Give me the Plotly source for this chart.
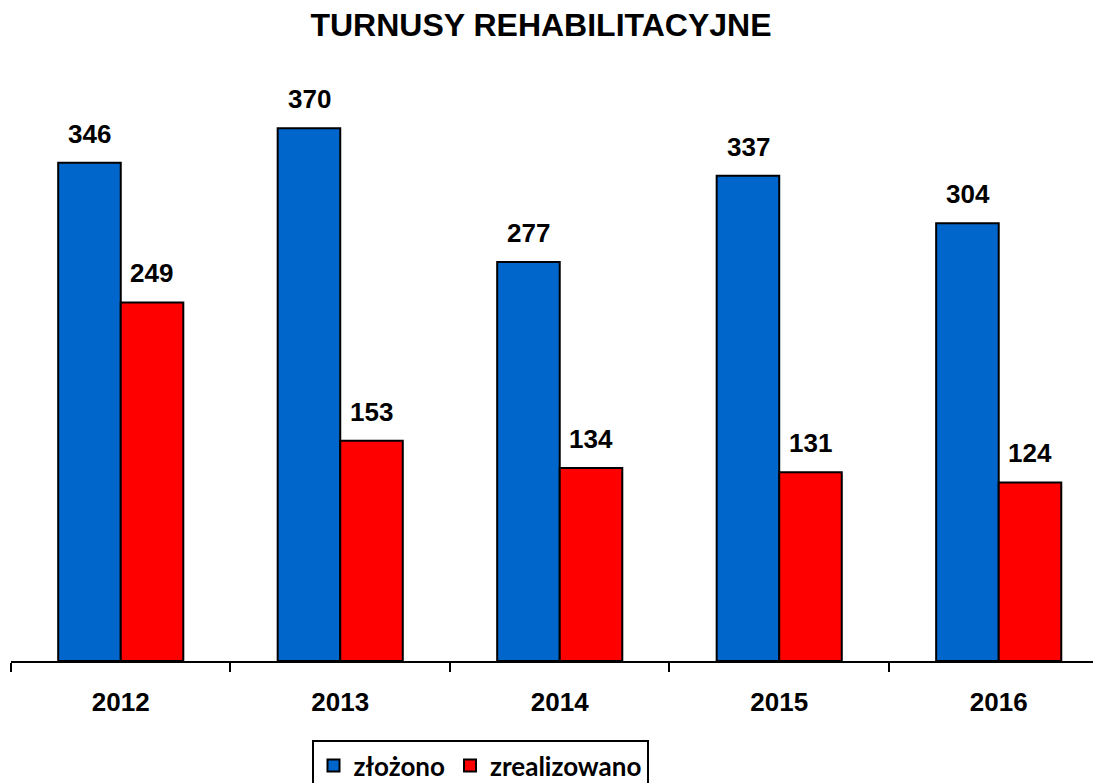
import plotly.graph_objects as go

years = ["2012", "2013", "2014", "2015", "2016"]
zlozono = [346, 370, 277, 337, 304]
zrealizowano = [249, 153, 134, 131, 124]

BLUE = "#0066CC"
RED = "#FF0000"
VAL_FONT = dict(family="Liberation Sans, Arial", size=26, color="black")

W, H = 1093, 775  # page has an 8px body margin

fig = go.Figure()
fig.add_trace(go.Bar(x=years, y=zlozono, name="złożono",
                     marker=dict(color=BLUE, line=dict(color="black", width=2))))
fig.add_trace(go.Bar(x=years, y=zrealizowano, name="zrealizowano",
                     marker=dict(color=RED, line=dict(color="black", width=2))))

annotations = []
for i, v in enumerate(zlozono):
    annotations.append(dict(x=i, y=v, xref="x", yref="y", text=f"<b>{v}</b>",
                            showarrow=False, xshift=-31, yshift=12,
                            yanchor="bottom", font=VAL_FONT))
for i, v in enumerate(zrealizowano):
    annotations.append(dict(x=i, y=v, xref="x", yref="y", text=f"<b>{v}</b>",
                            showarrow=False, xshift=31, yshift=12,
                            yanchor="bottom", font=VAL_FONT))

fig.update_layout(
    width=W, height=H,
    margin=dict(l=3, r=0, t=77, b=122),
    paper_bgcolor="white", plot_bgcolor="white",
    barmode="group", bargap=0.43, bargroupgap=0,
    title=dict(text="<b>TURNUSY REHABILITACYJNE</b>", xref="container", x=533 / W,
               xanchor="center", yref="container", y=1 - 17 / H, yanchor="middle",
               font=dict(family="Liberation Sans, Arial", size=32, color="black")),
    xaxis=dict(type="category", range=[-0.5, 4.466], showline=True, linecolor="black",
               linewidth=2, ticks="outside", tickson="boundaries", ticklen=9,
               tickwidth=2, tickcolor="black", showgrid=False, zeroline=False,
               ticklabelstandoff=17,
               tickfont=dict(family="Liberation Sans, Arial", size=26, color="black"),
               tickprefix="<b>", ticksuffix="</b>"),
    yaxis=dict(range=[0, 400], showticklabels=False, showline=False, showgrid=False,
               zeroline=False, ticks=""),
    legend=dict(orientation="h", xref="container", yref="container",
                x=472 / W, xanchor="center", y=1 - 732 / H, yanchor="top",
                bordercolor="black", borderwidth=2,
                font=dict(family="Lato", size=26, color="black", weight="bold"),
                itemwidth=30, tracegroupgap=0),
    annotations=annotations,
    showlegend=True,
)

fig.write_html("out.html")
